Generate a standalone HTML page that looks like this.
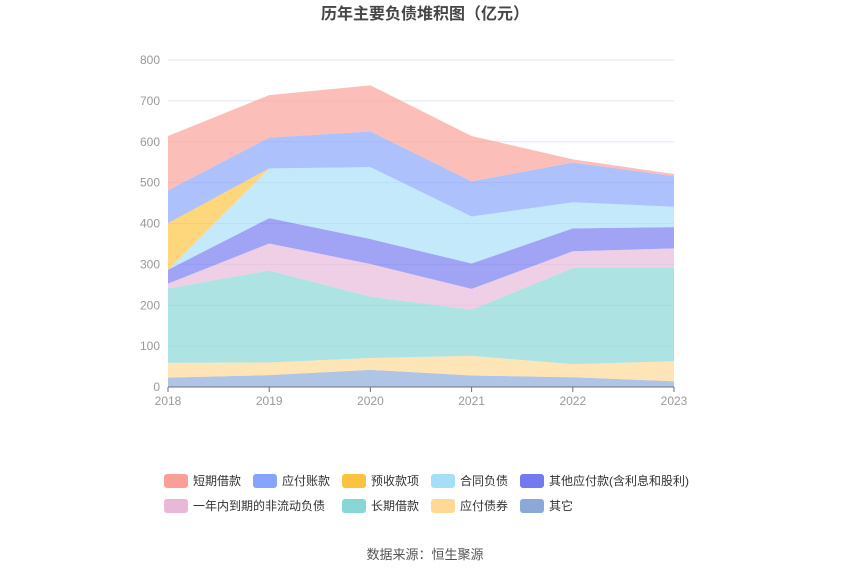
<!DOCTYPE html>
<html><head><meta charset="utf-8">
<style>
body{margin:0;width:850px;height:575px;background:#fff;font-family:"Liberation Sans","Noto Sans CJK SC",sans-serif;overflow:hidden}
</style></head>
<body>
<svg id="chart" width="850" height="575" xmlns="http://www.w3.org/2000/svg" font-family="Liberation Sans, Noto Sans CJK SC, sans-serif">
<text x="425" y="19" text-anchor="middle" font-size="16" font-weight="bold" fill="#464646">历年主要负债堆积图（亿元）</text>
<g id="grid"></g><g id="areas"></g><g id="axes"></g><g id="legend"></g>
<text x="425" y="559" text-anchor="middle" font-size="13" fill="#555">数据来源：恒生聚源</text>
</svg>
<script>
const years=["2018","2019","2020","2021","2022","2023"];
const yTicks=[0,100,200,300,400,500,600,700,800];
const seriesNames=["其它","应付债券","长期借款","一年内到期的非流动负债","其他应付款(含利息和股利)","合同负债","预收款项","应付账款","短期借款"];
const other=[23,29,42,28,24,14];
const bonds=[36,31,29,48,32,49];
const longLoan=[182,225,150,113,235,228];
const currentNonCur=[12,66,80,51,41,48];
const otherPayable=[34,62,61,62,56,52];
const contractLiab=[0,122,176,115,64,50];
const advance=[114,0,0,0,0,0];
const payable=[80,75,87,86,97,75];
const shortLoan=[133,104,113,111,8,5];
const seriesData=[other,bonds,longLoan,currentNonCur,otherPayable,contractLiab,advance,payable,shortLoan];
const colors=["#8aa9d9","#fed996","#86d7d6","#e8b8d8","#7479f0","#a6def8","#fdc23e","#86a4fb","#fb9f96"];
const names=["other","bonds","long-term-loan","current-noncurrent","other-payable","contract-liab","advance","payable","short-loan"];
const NS="http://www.w3.org/2000/svg";
const x=i=>168+i*(674-168)/(years.length-1);
const y=v=>387-v*(387-60)/800;
function mk(t,a,p){const e=document.createElementNS(NS,t);for(const k in a)e.setAttribute(k,a[k]);p.appendChild(e);return e;}
const grid=document.getElementById('grid'),axes=document.getElementById('axes'),areas=document.getElementById('areas'),legend=document.getElementById('legend');
yTicks.forEach(t=>{
 if(t>0){const l=mk('line',{x1:168,x2:674,y1:y(t),y2:y(t),stroke:'#e0e6f1'},grid);
 
 }
 const tx=mk('text',{x:160,y:y(t)+4,'text-anchor':'end','font-size':12,fill:'#999'},axes);
 tx.textContent=t;
 
 
});
let base=years.map(()=>0);
seriesData.forEach((d,s)=>{
 const top=base.map((b,i)=>b+d[i]);
 let pts=top.map((v,i)=>x(i)+','+y(v));
 for(let i=years.length-1;i>=0;i--)pts.push(x(i)+','+y(base[i]));
 const p=mk('polygon',{points:pts.join(' '),fill:colors[s],'fill-opacity':0.68},areas);
 
 
 base=top;
});
const ax=mk('line',{x1:168,x2:674,y1:387,y2:387,stroke:'#6e7079'},axes);


years.forEach((yr,i)=>{
 const tk=mk('line',{x1:x(i),x2:x(i),y1:387,y2:392,stroke:'#6e7079'},axes);
 
 
 const t=mk('text',{x:x(i),y:405,'text-anchor':'middle','font-size':12,fill:'#999'},axes);
 t.textContent=yr;
 
 
});
const legendOrder=[8,7,6,5,4,3,2,1,0];
const lx=[164,253,342,431,520,164,342,431,520];
legendOrder.forEach((s,k)=>{
 const row=k<5?0:1;
 const xs=k<5?[164,253,342,431,520][k]:[164,342,431,520][k-5];
 const yy=row?506:481;
 const g=mk('g',{},legend);
 
 
 mk('rect',{x:xs,y:yy-7,width:24,height:14,rx:3,fill:colors[s]},g);
 const t=mk('text',{x:xs+29,y:yy+4,'font-size':12,fill:'#333'},g);
 t.textContent=seriesNames[s];
});
</script>
</body></html>
